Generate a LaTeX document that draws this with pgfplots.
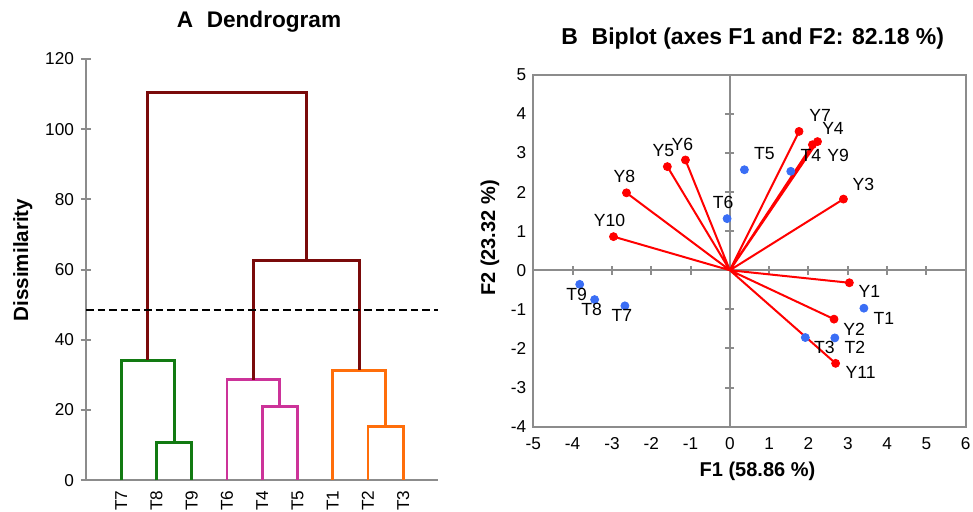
\documentclass[border=0pt]{standalone}
\usepackage{fontspec}
\setmainfont{Liberation Sans}
\usepackage{pgfplots}
\usepackage{pgfplotstable}
\pgfplotsset{compat=1.18}
\definecolor{axgray}{HTML}{8C8C8C}
\definecolor{dmaroon}{HTML}{7A0A0A}
\definecolor{dgreen}{HTML}{127A12}
\definecolor{dmagenta}{HTML}{CC3399}
\definecolor{dorange}{HTML}{FF6E0A}
\definecolor{pblue}{HTML}{3A6EF5}
\definecolor{pred}{HTML}{FF0000}

% variables (red) and treatments (blue): x y label, label offsets in pt
\pgfplotstableread{
x y label dx dy
3.04 -0.32 Y1 10 -4.5
2.65 -1.25 Y2 10 -5
2.89 1.82 Y3 10 7.5
2.10 3.21 Y4 10.3 8.3
-1.59 2.65 Y5 -2 8
-1.13 2.82 Y6 -1.5 8
1.76 3.55 Y7 10.5 8
-2.63 1.98 Y8 -1 8
2.23 3.29 Y9 10.3 -6.8
-2.96 0.86 Y10 -2 8
2.69 -2.38 Y11 12.5 -4.5
}\vars
\pgfplotstableread{
x y label dx dy
3.41 -0.97 T1 10 -5
2.67 -1.73 T2 10 -4.5
1.92 -1.72 T3 9.5 -5
1.55 2.53 T4 10 8
0.37 2.57 T5 10 8
-0.07 1.32 T6 -2 8
-2.67 -0.91 T7 -1.5 -5
-3.44 -0.75 T8 -1.5 -5
-3.82 -0.36 T9 -1.5 -5
}\treats

\pgfplotsset{
  lbl/.style={
    nodes near coords, point meta=explicit symbolic,
    visualization depends on={\thisrow{dx}\as\dx},
    visualization depends on={\thisrow{dy}\as\dy},
    nodes near coords align=center,
    every node near coord/.append style={black, anchor=center, inner sep=0pt,
      font=\fontsize{8.8}{10}\selectfont, xshift=\dx pt, yshift=\dy pt},
  },
}

\begin{document}
\begin{tikzpicture}[font=\fontsize{8.6}{10}\selectfont]
% ---- A: dendrogram ----
\begin{axis}[
  at={(0,0)}, anchor=south west,
  scale only axis, width=176.2pt, height=210.7pt,
  xmin=0, xmax=10, ymin=0, ymax=120,
  axis x line=bottom, axis y line=left,
  axis line style={axgray, line width=1pt, -},
  xtick={1,...,9},
  xticklabels={T7,T8,T9,T6,T4,T5,T1,T2,T3},
  xticklabel style={rotate=90, anchor=east, inner sep=2.6pt},
  xtick style={draw=none},
  ytick={0,20,...,120},
  ytick align=center, major tick length=5pt,
  ytick style={axgray, line width=1pt},
  /pgf/number format/assume math mode=true,
  clip=false,
]
\addplot[dgreen, line width=1.4pt] coordinates {(2,0)(2,10.7)(3,10.7)(3,0)};
\addplot[dgreen, line width=1.4pt] coordinates {(1,0)(1,34.2)(2.5,34.2)(2.5,10.7)};
\addplot[dmagenta, line width=1.4pt] coordinates {(5,0)(5,21.1)(6,21.1)(6,0)};
\addplot[dmagenta, line width=1.4pt] coordinates {(4,0)(4,28.6)(5.5,28.6)(5.5,21.1)};
\addplot[dorange, line width=1.4pt] coordinates {(8,0)(8,15.4)(9,15.4)(9,0)};
\addplot[dorange, line width=1.4pt] coordinates {(7,0)(7,31.3)(8.5,31.3)(8.5,15.4)};
\addplot[dmaroon, line width=1.4pt] coordinates {(4.75,28.6)(4.75,62.7)(7.75,62.7)(7.75,31.3)};
\addplot[dmaroon, line width=1.4pt] coordinates {(1.75,34.2)(1.75,110.5)(6.25,110.5)(6.25,62.7)};
% truncation level
\addplot[black, line width=1pt, dash pattern=on 3.8pt off 2pt] coordinates {(0,48.4)(10,48.4)};
\end{axis}
% ---- B: biplot ----
\begin{axis}[
  at={(223.65pt,26.8pt)}, anchor=south west,
  scale only axis, width=216.2pt, height=176pt,
  xmin=-5, xmax=6, ymin=-4, ymax=5,
  axis lines=middle,
  axis line style={axgray, line width=1pt, -},
  xtick={-4,...,5}, ytick={-3,...,4},
  xticklabels={}, yticklabels={},
  tick align=center, major tick length=4.5pt,
  tick style={axgray, line width=1pt},
]
\end{axis}
\begin{axis}[
  at={(223.65pt,26.8pt)}, anchor=south west,
  scale only axis, width=216.2pt, height=176pt,
  xmin=-5, xmax=6, ymin=-4, ymax=5,
  xtick={-5,...,6}, ytick={-4,...,5},
  axis line style={axgray, line width=1pt},
  tick style={draw=none}, major tick length=0pt,
  xticklabel style={yshift=-2pt},
  /pgf/number format/assume math mode=true,
  clip=false,
]
\addplot[pred, line width=1pt, unbounded coords=jump] coordinates {
 (0,0)(3.04,-0.32) (nan,nan)
 (0,0)(2.65,-1.25) (nan,nan)
 (0,0)(2.89,1.82) (nan,nan)
 (0,0)(2.10,3.21) (nan,nan)
 (0,0)(-1.59,2.65) (nan,nan)
 (0,0)(-1.13,2.82) (nan,nan)
 (0,0)(1.76,3.55) (nan,nan)
 (0,0)(-2.63,1.98) (nan,nan)
 (0,0)(2.23,3.29) (nan,nan)
 (0,0)(-2.96,0.86) (nan,nan)
 (0,0)(2.69,-2.38)
};
\addplot[only marks, mark=*, mark size=2pt, pred, lbl] table[x=x, y=y, meta=label] {\vars};
\addplot[only marks, mark=*, mark size=2pt, pblue, lbl] table[x=x, y=y, meta=label] {\treats};
\end{axis}
% ---- titles and axis labels ----
\node[font=\fontsize{11.3}{13}\selectfont\bfseries] at (86.5pt,229.15pt) {A\hspace{0.6em}Dendrogram};
\node[font=\fontsize{10.3}{12}\selectfont\bfseries, rotate=90] at (-31.65pt,110.15pt) {Dissimilarity};
\node[font=\fontsize{11.5}{13}\selectfont\bfseries] at (333.35pt,220.9pt) {B\hspace{0.6em}Biplot (axes F1 and F2: 82.18 \%)};
\node[font=\fontsize{10}{12}\selectfont\bfseries, rotate=90] at (202pt,121.15pt) {F2 (23.32 \%)};
\node[font=\fontsize{10}{12}\selectfont\bfseries] at (335.75pt,4.65pt) {F1 (58.86 \%)};
\pgfresetboundingbox
\path[use as bounding box] (-43pt,-15.85pt) rectangle (443.5pt,240.15pt);
\end{tikzpicture}
\end{document}
